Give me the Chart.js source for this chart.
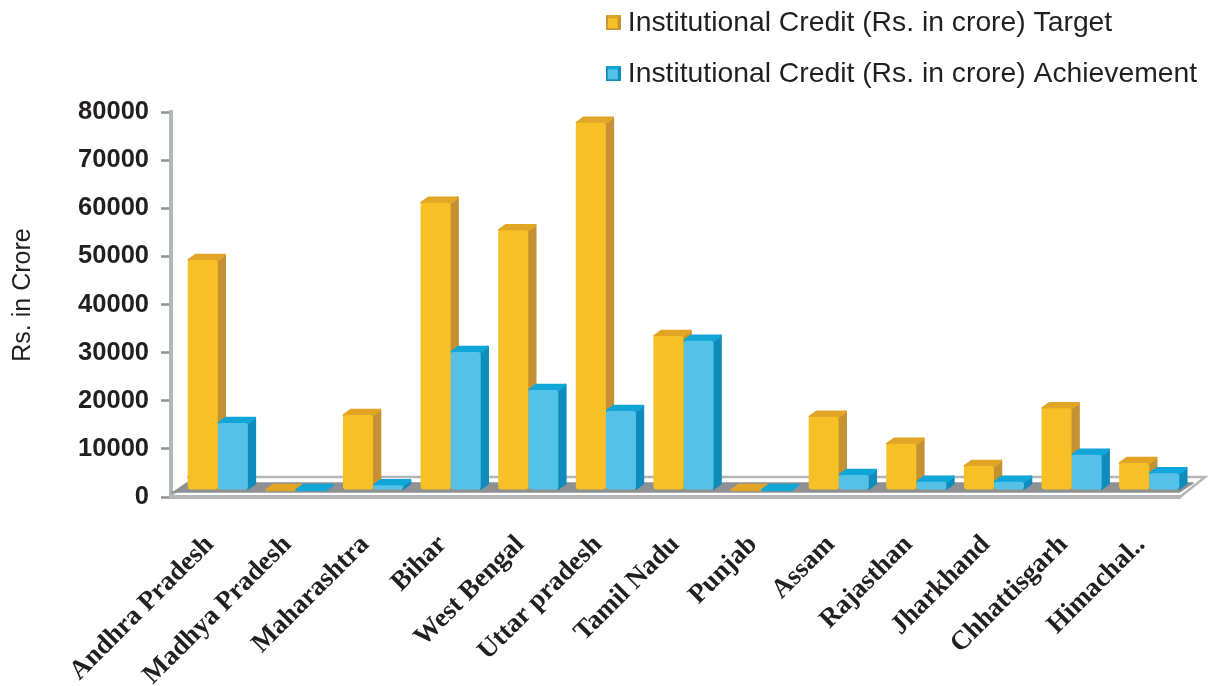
<!DOCTYPE html>
<html>
<head>
<meta charset="utf-8">
<title>Institutional Credit by State</title>
<script src="https://cdn.jsdelivr.net/npm/chart.js@4/dist/chart.umd.min.js"></script>
<style>
html,body{margin:0;padding:0;background:#fff}
canvas{display:block}
</style>
</head>
<body>
<canvas id="c" width="1208" height="686"></canvas>
<script>
const states = ['Andhra Pradesh','Madhya Pradesh','Maharashtra','Bihar','West Bengal','Uttar pradesh','Tamil Nadu','Punjab','Assam','Rajasthan','Jharkhand','Chhattisgarh','Himachal..'];
const targetCredit = [47800,0,15600,59700,54000,76300,32000,0,15200,9600,5000,17000,5600];
const achievedCredit = [13900,0,1000,28700,20800,16400,31000,0,3100,1700,1700,7300,3500];
const yAxisMax = 80000;
const yTickStep = 10000;
const yAxisCaption = 'Rs. in Crore';

const seriesNames = ['Institutional Credit (Rs. in crore) Target','Institutional Credit (Rs. in crore) Achievement'];
const frontColors = ['#F6C026','#55C1E6'];
const sideColors = ['#C49233','#0F8CBC'];
const topColors = ['#E2A526','#10A6D8'];

const INK = '#231F20';
const WALL = '#B4B7BA';
const FLOOR = '#8E9093';
const DEPTH_X = 8, DEPTH_Y = 6;      // extrusion of each column
const SHIFT_X = 8, SHIFT_Y = -7;     // columns stand mid-way across the floor

function poly(ctx, pts, fill, width){
  ctx.beginPath();
  pts.forEach((p,i)=> i ? ctx.lineTo(p[0],p[1]) : ctx.moveTo(p[0],p[1]));
  ctx.closePath();
  ctx.fillStyle = fill;
  ctx.strokeStyle = fill;
  ctx.lineWidth = width || 1.5;
  ctx.lineJoin = 'round';
  ctx.fill();
  ctx.stroke();
}

// Small bevelled swatch used as the legend marker.
function swatch(i){
  const s = 15, cv = document.createElement('canvas');
  cv.width = s; cv.height = s;
  const g = cv.getContext('2d');
  g.fillStyle = sideColors[i];
  g.fillRect(0,0,s,s);
  g.fillStyle = topColors[i];
  g.beginPath(); g.moveTo(0,0); g.lineTo(s,0); g.lineTo(s/2,s/2); g.closePath(); g.fill();
  g.fillStyle = frontColors[i];
  g.fillRect(2,3,s-5,s-5);
  return cv;
}
const swatches = [swatch(0), swatch(1)];

// Floor slab plus the side and top faces of every column; the library paints the fronts.
const extrusion = {
  id:'extrusion',
  beforeDatasetsDraw(chart){
    const {ctx, chartArea:a} = chart;
    ctx.save();
    // back edge and right-hand return of the slab
    ctx.strokeStyle = WALL;
    ctx.lineWidth = 2.5;
    ctx.beginPath();
    ctx.moveTo(a.left+16, a.bottom-20);
    ctx.lineTo(a.right+25, a.bottom-20);
    ctx.lineTo(a.right, a.bottom);
    ctx.stroke();
    ctx.lineWidth = 2;
    ctx.beginPath();
    ctx.moveTo(a.left, a.bottom-1);
    ctx.lineTo(a.left+16, a.bottom-14);
    ctx.stroke();
    // dark floor
    poly(ctx, [[a.left+1,a.bottom-4],[a.left+16,a.bottom-14],[a.right+13,a.bottom-14],[a.right-1,a.bottom-5],[a.left+1,a.bottom-5]], FLOOR);

    ctx.translate(SHIFT_X, SHIFT_Y);
    chart.data.datasets.forEach((ds, di)=>{
      chart.getDatasetMeta(di).data.forEach(bar=>{
        const l = bar.x - bar.width/2, r = bar.x + bar.width/2, t = bar.y, b = bar.base;
        if (b - t > 0.5) {
          poly(ctx, [[r,t],[r+DEPTH_X-1,t-DEPTH_Y+1],[r+DEPTH_X-1,b-DEPTH_Y],[r,b-1]], sideColors[di], 2.5);
        }
        poly(ctx, [[l+1,t],[l+DEPTH_X,t-DEPTH_Y+1],[r+DEPTH_X-1,t-DEPTH_Y+1],[r,t]], topColors[di], 2.5);
      });
    });
    ctx.restore();
    // columns are offset from the axis plane while the library draws them
    ctx.save();
    ctx.translate(SHIFT_X, SHIFT_Y);
  },
  afterDatasetsDraw(chart){
    chart.ctx.restore();
  },
  afterLayout(chart){
    // legend sits in the top-right corner, above the plot
    const lg = chart.legend;
    const w = lg.width, h = lg.height;
    lg.left = 590; lg.right = lg.left + w;
    lg.top = -14;  lg.bottom = lg.top + h;
  },
  afterDraw(chart){
    // axis caption, centred a little above the middle of the scale
    const ctx = chart.ctx;
    ctx.save();
    ctx.translate(23, 295);
    ctx.rotate(-Math.PI/2);
    ctx.font = '25px "Liberation Sans"';
    ctx.fillStyle = INK;
    ctx.textAlign = 'center';
    ctx.textBaseline = 'middle';
    ctx.fillText(yAxisCaption, 0, 0);
    ctx.restore();
  }
};

new Chart(document.getElementById('c'), {
  type:'bar',
  data:{
    labels: states,
    datasets: seriesNames.map((name,i)=>({
      label:name,
      data:[targetCredit,achievedCredit][i],
      backgroundColor:frontColors[i],
      borderWidth:0,
      borderRadius:3,
      borderSkipped:false,
      categoryPercentage:0.775,
      barPercentage:1
    }))
  },
  plugins:[extrusion],
  options:{
    responsive:false,
    animation:false,
    layout:{padding:{top:112,right:28,left:0,bottom:0}},
    plugins:{
      tooltip:{enabled:false},
      legend:{
        position:'chartArea',
        align:'start',
        labels:{
          color:INK,
          usePointStyle:true,
          pointStyleWidth:1,
          boxHeight:15,
          padding:22.7,
          font:{family:'"Liberation Sans"',size:28.3},
          generateLabels(chart){
            return chart.data.datasets.map((d,i)=>({
              text:d.label,
              pointStyle:swatches[i],
              fillStyle:frontColors[i],
              strokeStyle:sideColors[i],
              lineWidth:0,
              fontColor:INK,
              datasetIndex:i
            }));
          }
        }
      }
    },
    scales:{
      x:{
        grid:{display:false},
        border:{color:WALL,width:4},
        afterFit(s){s.height=189;},
        ticks:{
          autoSkip:false,
          maxRotation:45,
          minRotation:45,
          color:INK,
          padding:24,
          font:{family:'"Liberation Serif"',size:27,weight:'bold'}
        }
      },
      y:{
        min:0,
        max:yAxisMax,
        afterFit(s){s.width=171;},
        border:{color:WALL,width:4},
        grid:{drawOnChartArea:false,drawTicks:true,tickLength:10,tickColor:'#8E9093',tickWidth:2.5},
        ticks:{
          stepSize:yTickStep,
          color:INK,
          padding:12,
          font:{family:'"Liberation Sans"',size:25.5,weight:'bold'},
          callback:v=>String(v)
        }
      }
    }
  }
});
</script>
</body>
</html>
